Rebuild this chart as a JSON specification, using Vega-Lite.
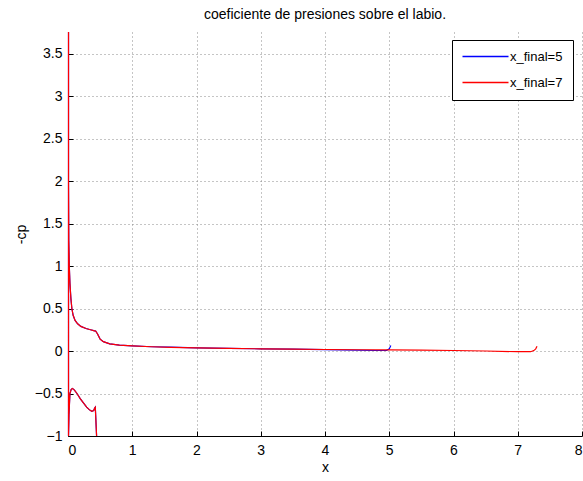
{
  "$schema": "https://vega.github.io/schema/vega-lite/v6.json",
  "autosize": "none",
  "width": 514,
  "height": 404,
  "padding": {"left": 68, "top": 32, "right": 1, "bottom": 45},
  "background": "white",
  "title": {
    "text": "coeficiente de presiones sobre el labio.",
    "font": "Liberation Sans",
    "fontSize": 14,
    "fontWeight": "normal",
    "color": "black",
    "offset": 8
  },
  "config": {
    "view": {"stroke": null},
    "font": "Liberation Sans",
    "axis": {
      "labelFont": "Liberation Sans",
      "labelFontSize": 14,
      "labelColor": "black",
      "titleFont": "Liberation Sans",
      "titleFontSize": 14,
      "titleFontWeight": "normal",
      "titleColor": "black",
      "domainColor": "black",
      "tickColor": "black",
      "tickSize": -5,
      "grid": true,
      "gridColor": "#8a8a8a",
      "gridDash": [1, 3],
      "gridWidth": 1,
      "zindex": 0
    }
  },
  "data": {
    "values": [
      {"s": "x_final=5", "i": 1, "x": 0.445, "y": -1.0},
      {"s": "x_final=5", "i": 2, "x": 0.425, "y": -0.66},
      {"s": "x_final=5", "i": 3, "x": 0.415, "y": -0.67},
      {"s": "x_final=5", "i": 4, "x": 0.4, "y": -0.7},
      {"s": "x_final=5", "i": 5, "x": 0.37, "y": -0.71},
      {"s": "x_final=5", "i": 6, "x": 0.33, "y": -0.69},
      {"s": "x_final=5", "i": 7, "x": 0.29, "y": -0.66},
      {"s": "x_final=5", "i": 8, "x": 0.24, "y": -0.61},
      {"s": "x_final=5", "i": 9, "x": 0.19, "y": -0.56},
      {"s": "x_final=5", "i": 10, "x": 0.14, "y": -0.5},
      {"s": "x_final=5", "i": 11, "x": 0.1, "y": -0.46},
      {"s": "x_final=5", "i": 12, "x": 0.07, "y": -0.44},
      {"s": "x_final=5", "i": 13, "x": 0.05, "y": -0.45},
      {"s": "x_final=5", "i": 14, "x": 0.03, "y": -0.5},
      {"s": "x_final=5", "i": 15, "x": 0.015, "y": -0.75},
      {"s": "x_final=5", "i": 16, "x": 0.008, "y": -1.0},
      {"s": "x_final=5", "i": 17, "x": 0.008, "y": 3.754},
      {"s": "x_final=5", "i": 18, "x": 0.008, "y": 2.0},
      {"s": "x_final=5", "i": 19, "x": 0.012, "y": 1.3},
      {"s": "x_final=5", "i": 20, "x": 0.02, "y": 1.0},
      {"s": "x_final=5", "i": 21, "x": 0.03, "y": 0.8},
      {"s": "x_final=5", "i": 22, "x": 0.045, "y": 0.62},
      {"s": "x_final=5", "i": 23, "x": 0.06, "y": 0.5},
      {"s": "x_final=5", "i": 24, "x": 0.08, "y": 0.42},
      {"s": "x_final=5", "i": 25, "x": 0.11, "y": 0.36},
      {"s": "x_final=5", "i": 26, "x": 0.15, "y": 0.32},
      {"s": "x_final=5", "i": 27, "x": 0.2, "y": 0.29},
      {"s": "x_final=5", "i": 28, "x": 0.28, "y": 0.265},
      {"s": "x_final=5", "i": 29, "x": 0.35, "y": 0.25},
      {"s": "x_final=5", "i": 30, "x": 0.4, "y": 0.24},
      {"s": "x_final=5", "i": 31, "x": 0.43, "y": 0.235},
      {"s": "x_final=5", "i": 32, "x": 0.46, "y": 0.2},
      {"s": "x_final=5", "i": 33, "x": 0.5, "y": 0.14},
      {"s": "x_final=5", "i": 34, "x": 0.55, "y": 0.11},
      {"s": "x_final=5", "i": 35, "x": 0.65, "y": 0.085},
      {"s": "x_final=5", "i": 36, "x": 0.8, "y": 0.07},
      {"s": "x_final=5", "i": 37, "x": 1.0, "y": 0.06},
      {"s": "x_final=5", "i": 38, "x": 1.3, "y": 0.05},
      {"s": "x_final=5", "i": 39, "x": 1.6, "y": 0.045},
      {"s": "x_final=5", "i": 40, "x": 2.0, "y": 0.038},
      {"s": "x_final=5", "i": 41, "x": 2.5, "y": 0.03},
      {"s": "x_final=5", "i": 42, "x": 3.0, "y": 0.026},
      {"s": "x_final=5", "i": 43, "x": 3.5, "y": 0.022},
      {"s": "x_final=5", "i": 44, "x": 4.0, "y": 0.016},
      {"s": "x_final=5", "i": 45, "x": 4.5, "y": 0.01},
      {"s": "x_final=5", "i": 46, "x": 4.8, "y": 0.006},
      {"s": "x_final=5", "i": 47, "x": 4.96, "y": 0.008},
      {"s": "x_final=5", "i": 48, "x": 5.0, "y": 0.025},
      {"s": "x_final=5", "i": 49, "x": 5.025, "y": 0.065},

      {"s": "x_final=7", "i": 1, "x": 0.445, "y": -1.0},
      {"s": "x_final=7", "i": 2, "x": 0.425, "y": -0.66},
      {"s": "x_final=7", "i": 3, "x": 0.415, "y": -0.67},
      {"s": "x_final=7", "i": 4, "x": 0.4, "y": -0.7},
      {"s": "x_final=7", "i": 5, "x": 0.37, "y": -0.71},
      {"s": "x_final=7", "i": 6, "x": 0.33, "y": -0.69},
      {"s": "x_final=7", "i": 7, "x": 0.29, "y": -0.66},
      {"s": "x_final=7", "i": 8, "x": 0.24, "y": -0.61},
      {"s": "x_final=7", "i": 9, "x": 0.19, "y": -0.56},
      {"s": "x_final=7", "i": 10, "x": 0.14, "y": -0.5},
      {"s": "x_final=7", "i": 11, "x": 0.1, "y": -0.46},
      {"s": "x_final=7", "i": 12, "x": 0.07, "y": -0.44},
      {"s": "x_final=7", "i": 13, "x": 0.05, "y": -0.45},
      {"s": "x_final=7", "i": 14, "x": 0.03, "y": -0.5},
      {"s": "x_final=7", "i": 15, "x": 0.015, "y": -0.75},
      {"s": "x_final=7", "i": 16, "x": 0.008, "y": -1.0},
      {"s": "x_final=7", "i": 17, "x": 0.008, "y": 3.754},
      {"s": "x_final=7", "i": 18, "x": 0.008, "y": 2.0},
      {"s": "x_final=7", "i": 19, "x": 0.012, "y": 1.3},
      {"s": "x_final=7", "i": 20, "x": 0.02, "y": 1.0},
      {"s": "x_final=7", "i": 21, "x": 0.03, "y": 0.8},
      {"s": "x_final=7", "i": 22, "x": 0.045, "y": 0.62},
      {"s": "x_final=7", "i": 23, "x": 0.06, "y": 0.5},
      {"s": "x_final=7", "i": 24, "x": 0.08, "y": 0.42},
      {"s": "x_final=7", "i": 25, "x": 0.11, "y": 0.36},
      {"s": "x_final=7", "i": 26, "x": 0.15, "y": 0.32},
      {"s": "x_final=7", "i": 27, "x": 0.2, "y": 0.29},
      {"s": "x_final=7", "i": 28, "x": 0.28, "y": 0.265},
      {"s": "x_final=7", "i": 29, "x": 0.35, "y": 0.25},
      {"s": "x_final=7", "i": 30, "x": 0.4, "y": 0.24},
      {"s": "x_final=7", "i": 31, "x": 0.43, "y": 0.235},
      {"s": "x_final=7", "i": 32, "x": 0.46, "y": 0.2},
      {"s": "x_final=7", "i": 33, "x": 0.5, "y": 0.14},
      {"s": "x_final=7", "i": 34, "x": 0.55, "y": 0.11},
      {"s": "x_final=7", "i": 35, "x": 0.65, "y": 0.085},
      {"s": "x_final=7", "i": 36, "x": 0.8, "y": 0.07},
      {"s": "x_final=7", "i": 37, "x": 1.0, "y": 0.06},
      {"s": "x_final=7", "i": 38, "x": 1.3, "y": 0.05},
      {"s": "x_final=7", "i": 39, "x": 1.6, "y": 0.044},
      {"s": "x_final=7", "i": 40, "x": 2.0, "y": 0.037},
      {"s": "x_final=7", "i": 41, "x": 2.5, "y": 0.03},
      {"s": "x_final=7", "i": 42, "x": 3.0, "y": 0.026},
      {"s": "x_final=7", "i": 43, "x": 3.5, "y": 0.022},
      {"s": "x_final=7", "i": 44, "x": 4.0, "y": 0.018},
      {"s": "x_final=7", "i": 45, "x": 4.5, "y": 0.015},
      {"s": "x_final=7", "i": 46, "x": 5.0, "y": 0.013},
      {"s": "x_final=7", "i": 47, "x": 5.5, "y": 0.01},
      {"s": "x_final=7", "i": 48, "x": 6.0, "y": 0.006},
      {"s": "x_final=7", "i": 49, "x": 6.5, "y": 0.0},
      {"s": "x_final=7", "i": 50, "x": 7.0, "y": -0.008},
      {"s": "x_final=7", "i": 51, "x": 7.2, "y": -0.008},
      {"s": "x_final=7", "i": 52, "x": 7.25, "y": 0.005},
      {"s": "x_final=7", "i": 53, "x": 7.28, "y": 0.025},
      {"s": "x_final=7", "i": 54, "x": 7.3, "y": 0.055}
    ]
  },
  "mark": {"type": "line", "clip": false, "strokeWidth": 1.2},
  "encoding": {
    "x": {
      "field": "x",
      "type": "quantitative",
      "scale": {"domain": [0, 8], "nice": false, "zero": false},
      "axis": {
        "values": [0, 1, 2, 3, 4, 5, 6, 7, 8],
        "format": "d",
        "title": "x",
        "labelPadding": 12,
        "titlePadding": 3
      }
    },
    "y": {
      "field": "y",
      "type": "quantitative",
      "scale": {"domain": [-1, 3.754], "nice": false, "zero": false},
      "axis": {
        "values": [-1, -0.5, 0, 0.5, 1, 1.5, 2, 2.5, 3, 3.5],
        "format": "~g",
        "title": "-cp",
        "domain": false,
        "labelPadding": 11,
        "titlePadding": 6
      }
    },
    "color": {
      "field": "s",
      "type": "nominal",
      "scale": {"domain": ["x_final=5", "x_final=7"], "range": ["#0000ff", "#ff0000"]},
      "legend": {
        "title": null,
        "orient": "none",
        "legendX": 384,
        "legendY": 8,
        "direction": "vertical",
        "strokeColor": "black",
        "fillColor": "white",
        "padding": 10,
        "symbolType": "M-1.2,0H8",
        "symbolSize": 100,
        "symbolStrokeWidth": 1.4,
        "labelOffset": 35,
        "labelFont": "Liberation Sans",
        "labelFontSize": 13,
        "labelColor": "black",
        "rowPadding": 12
      }
    },
    "order": {"field": "i", "type": "quantitative"}
  }
}
